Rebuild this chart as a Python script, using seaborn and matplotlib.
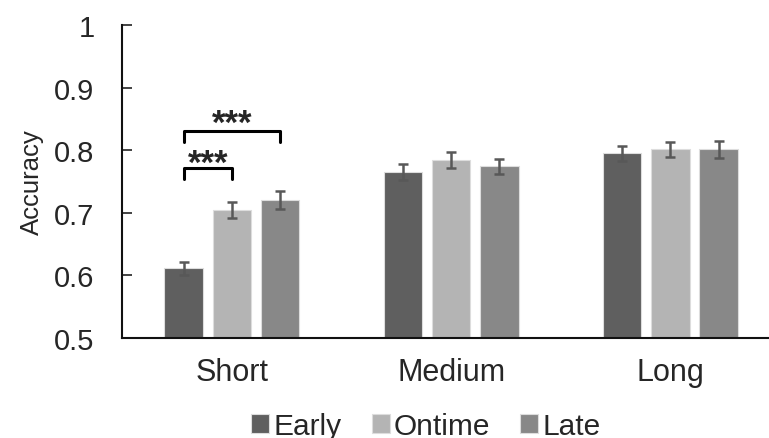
import matplotlib
matplotlib.use("Agg")
import matplotlib.pyplot as plt
import pandas as pd
import seaborn as sns

# values
durations = ["Short", "Medium", "Long"]
timings = ["Early", "Ontime", "Late"]
early_acc = [0.611, 0.765, 0.795]
ontime_acc = [0.704, 0.784, 0.801]
late_acc = [0.720, 0.774, 0.801]
early_err = [0.010, 0.013, 0.012]
ontime_err = [0.013, 0.013, 0.012]
late_err = [0.014, 0.012, 0.013]

colors = ["#5f5f5f", "#b4b4b4", "#888888"]

rows = []
for t, acc, err in zip(timings, [early_acc, ontime_acc, late_acc],
                       [early_err, ontime_err, late_err]):
    for d, a, e in zip(durations, acc, err):
        rows.append({"Duration": d, "Timing": t, "Accuracy": a, "SE": e})
df = pd.DataFrame(rows)

sns.set_style("white")
plt.rcParams["font.family"] = ["Liberation Sans", "DejaVu Sans"]

fig = plt.figure(figsize=(7.69, 4.39), dpi=100)
ax = fig.add_axes([0.159, 0.228, 0.841, 0.713])

sns.barplot(data=df, x="Duration", y="Accuracy", hue="Timing",
            order=durations, hue_order=timings, palette=colors,
            errorbar=None, width=0.66, gap=0.2, ax=ax, legend=True,
            edgecolor="#dddddd", linewidth=0.8)

# error bars at the bar centres
for cont, t in zip(ax.containers, timings):
    sub = df[df["Timing"] == t].set_index("Duration").loc[durations]
    xs = [p.get_x() + p.get_width() / 2 for p in cont]
    ax.errorbar(xs, sub["Accuracy"], yerr=sub["SE"], fmt="none",
                ecolor="#585858", elinewidth=1.8, capsize=3.8, capthick=1.8)

# significance brackets for the Short group
xe = ax.containers[0][0].get_x() + ax.containers[0][0].get_width() / 2
xo = ax.containers[1][0].get_x() + ax.containers[1][0].get_width() / 2
xl = ax.containers[2][0].get_x() + ax.containers[2][0].get_width() / 2
for x2, ytop, ylow, ystar in [(xo, 0.771, 0.754, 0.763),
                              (xl, 0.831, 0.813, 0.828)]:
    ax.plot([xe, xe, x2, x2], [ylow, ytop, ytop, ylow], color="black", lw=2.2,
            solid_joinstyle="round", solid_capstyle="round", clip_on=False)
    ax.text((xe + x2) / 2, ystar, "***", ha="center", va="baseline",
            fontsize=25, fontweight="bold")

ax.set_ylim(0.5, 1.0)
ax.set_xlim(-0.5, 2.45)
ax.set_yticks([0.5, 0.6, 0.7, 0.8, 0.9, 1.0])
ax.set_yticklabels(["0.5", "0.6", "0.7", "0.8", "0.9", "1"])
ax.tick_params(axis="y", labelsize=21, direction="in", length=7, width=1.2,
               color="#222222", left=True, pad=20)
ax.tick_params(axis="x", labelsize=22, length=0, pad=14)
ax.set_xlabel("")
ax.set_ylabel("Accuracy", fontsize=18.5, labelpad=7)

for s in ["top", "right"]:
    ax.spines[s].set_visible(False)
for s in ["left", "bottom"]:
    ax.spines[s].set_color("#111111")
    ax.spines[s].set_linewidth(1.5)

handles, labels = ax.get_legend_handles_labels()
ax.legend(handles, labels, loc="center", bbox_to_anchor=(0.47, -0.28),
          ncol=3, frameon=False, fontsize=21.5, handlelength=0.6,
          handleheight=0.6, handletextpad=0.15, columnspacing=1.0)

fig.savefig("out.png", dpi=100)
